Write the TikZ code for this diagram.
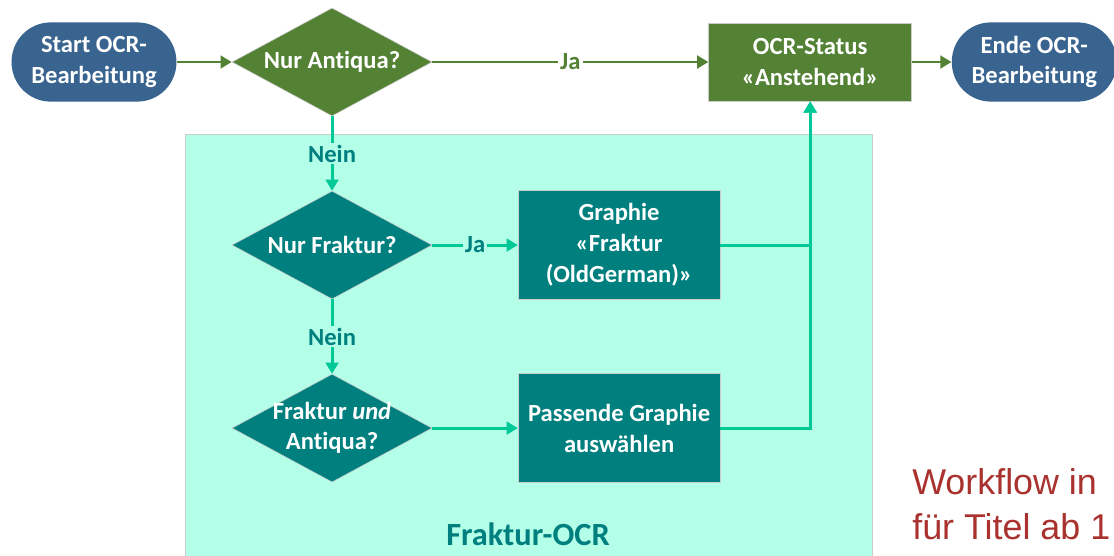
\documentclass[tikz,border=0pt]{standalone}
\usepackage{fontspec}
\setmainfont{Carlito}[Ligatures=CommonOff]
\newfontfamily\workfont{Liberation Sans}
\usetikzlibrary{shapes.geometric,arrows.meta}

\definecolor{termblue}{HTML}{38648F}
\definecolor{antgreen}{HTML}{548235}
\definecolor{frakteal}{HTML}{007F7F}
\definecolor{flowgreen}{HTML}{00C896}
\definecolor{frakfill}{HTML}{B3FFE8}
\definecolor{workred}{HTML}{A9322E}

\begin{document}
\begin{tikzpicture}[x=0.025cm,y=-0.025cm]

	\tikzstyle{terminal}=[rectangle,rounded corners=0.98cm,
		fill=termblue,text=white,font=\fontsize{17.5}{21.5}\selectfont\bfseries,
		minimum height=1.98cm,minimum width=4.12cm,inner sep=0pt,align=center]
	\tikzstyle{decision}=[diamond,aspect=1.85,
		text=white,draw=gray!40,thin,font=\fontsize{17.5}{21.5}\selectfont\bfseries,
		minimum height=2.7cm,minimum width=5cm,inner sep=-6pt,align=center,
		node distance=4.575cm]
	\tikzstyle{process}=[rectangle,
		text=white,draw=gray!40,thin,font=\fontsize{17.5}{22}\selectfont\bfseries,
		minimum height=2.725cm,minimum width=5.05cm,inner sep=0pt,align=center,
		node distance=7.175cm]
	\tikzstyle{flow}=[-{Triangle[length=8pt,width=9pt]},line width=2.1pt]
	\tikzstyle{answer}=[font=\fontsize{17.5}{21.5}\selectfont\bfseries,inner sep=1.5pt]

	\useasboundingbox (0,0) rectangle (1114,555);

	% Fraktur-OCR area
	\filldraw[fill=frakfill,draw=gray!40] (185,134) rectangle (872,575);
	\node[anchor=base,text=frakteal,font=\fontsize{23}{28}\selectfont\bfseries] (areatitle) at (528,545) {Fraktur-OCR};

	\node[terminal]	(start) at (94,62) {Start OCR-\\Bearbeitung};
	\node[decision,fill=antgreen,node distance=5.95cm,right of=start]	(antiqua)	{Nur Antiqua?};
	\node[process,fill=antgreen,minimum height=1.95cm,minimum width=5.075cm,node distance=11.95cm,right of=antiqua]	(ocr)	{OCR-Status\\«Anstehend»};
	\node[terminal,node distance=5.6cm,right of=ocr]	(ende)	{Ende OCR-\\Bearbeitung};

	\node[decision,fill=frakteal,below of=antiqua]	(fraktur)	{Nur Fraktur?};
	\node[process,fill=frakteal,right of=fraktur]	(graphie)	{Graphie\\«Fraktur\\(OldGerman)»};
	\node[decision,fill=frakteal,below of=fraktur]	(mixed)	{Fraktur \textit{und}\\Antiqua?};
	\node[process,fill=frakteal,right of=mixed]	(passend)	{Passende Graphie\\auswählen};

	\draw[flow,antgreen] (start) -- (antiqua);
	\draw[flow,antgreen] (antiqua) -- node[answer,fill=white,text=antgreen]{Ja} (ocr);
	\draw[flow,antgreen] (ocr) -- (ende);

	\draw[flow,flowgreen] (antiqua) -- node[answer,fill=frakfill,text=frakteal]{Nein} (fraktur);
	\draw[flow,flowgreen] (fraktur) -- node[answer,fill=frakfill,text=frakteal]{Ja} (graphie);
	\draw[flow,flowgreen] (fraktur) -- node[answer,fill=frakfill,text=frakteal]{Nein} (mixed);
	\draw[flow,flowgreen] (mixed) -- (passend);
	\draw[flow,flowgreen] (graphie.east) -| (ocr.south);
	\draw[flow,flowgreen] (passend.east) -| (ocr.south);

	\node[anchor=base west,text=workred,font=\workfont\fontsize{25.5}{30}\selectfont,inner sep=0pt] (workA) at (912,494) {Workflow in};
	\node[anchor=base west,text=workred,font=\workfont\fontsize{25.5}{30}\selectfont,inner sep=0pt] (workB) at (912,539) {für Titel ab 1};

\end{tikzpicture}
\end{document}
